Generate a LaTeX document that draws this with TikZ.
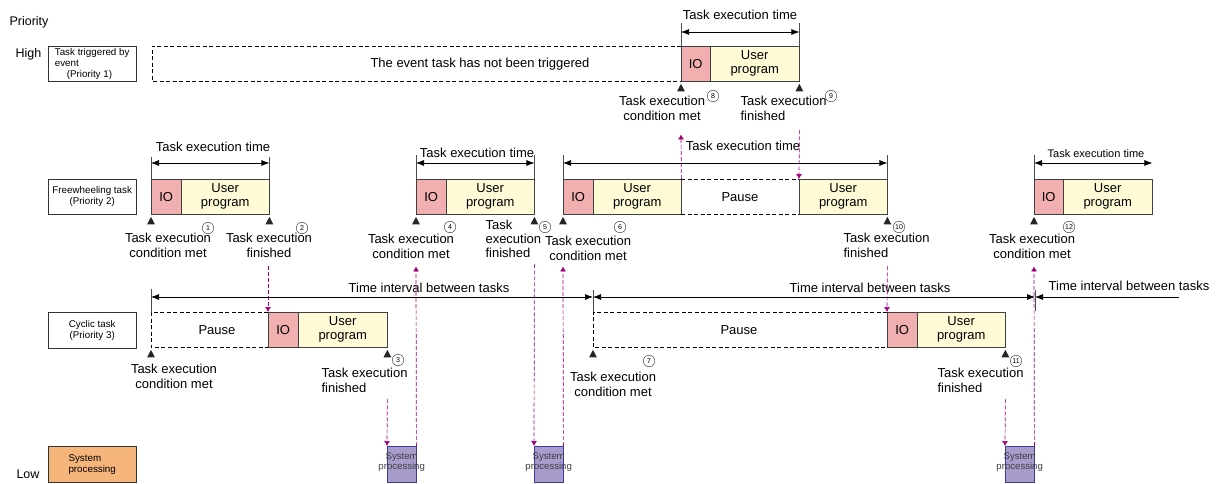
\documentclass[tikz,border=0pt]{standalone}
\usepackage{fontspec}
\setmainfont{Liberation Sans}
\usepackage{tikz}
\usetikzlibrary{calc,arrows.meta,shapes.geometric}
\definecolor{iopink}{HTML}{F2AFAF}
\definecolor{progyellow}{HTML}{FEFBD6}
\definecolor{syspurple}{HTML}{A79CCC}
\definecolor{sysedge}{HTML}{3B3B9B}
\definecolor{sysorange}{HTML}{F6B57B}
\definecolor{trigmag}{HTML}{A3007D}

\begin{document}
\begin{tikzpicture}[x=1pt,y=-1pt,
		lbl/.style={draw=black!80,fill=white,anchor=north west,minimum width=88pt,minimum height=35pt,inner sep=1pt,align=center,font=\fontsize{9.8}{10.8}\selectfont},
		io/.style={draw=black!75,fill=iopink,anchor=north west,minimum width=30pt,minimum height=35pt,inner sep=0pt,font=\fontsize{13}{14}\selectfont},
		prog/.style={draw=black!75,fill=progyellow,anchor=north west,minimum width=88pt,minimum height=35pt,inner sep=0pt,align=center,font=\fontsize{13}{14}\selectfont},
		sys/.style={draw=sysedge,fill=syspurple,anchor=north west,minimum width=29pt,minimum height=36pt,inner sep=0pt},
		systxt/.style={text=black!75,align=center,font=\fontsize{9.6}{10.5}\selectfont},
		txt/.style={align=center,font=\fontsize{13}{15}\selectfont},
		numc/.style={circle,draw=black!80,inner sep=0pt,minimum size=11.5pt,font=\fontsize{7}{7}\selectfont},
		tri/.style={isosceles triangle,isosceles triangle apex angle=55,shape border rotate=90,fill=black!85,inner sep=0pt,minimum height=7.5pt,anchor=apex},
		tick/.style={draw=black!70,line width=0.7pt},
		dimarrow/.style={<->,>={Latex[length=8pt,width=6pt]},line width=0.7pt},
		pausedash/.style={dash pattern=on 4pt off 2.5pt,line width=0.7pt},
		trigarrow/.style={->,>={Latex[length=5pt,width=6pt]},draw=trigmag,dash pattern=on 4pt off 2pt,line width=0.7pt}
	]
		\useasboundingbox (0,0) rectangle (1216,484);

		% priority axis
		\node[anchor=west,font=\fontsize{12.5}{14}\selectfont] (prio) at (6,22) {Priority};
		\node[anchor=west,font=\fontsize{12.5}{14}\selectfont] (high) at (12,54) {High};
		\node[anchor=west,font=\fontsize{12.5}{14}\selectfont] (low) at (13,474) {Low};

		% event task (priority 1)
		\node[lbl,align=left] (p1) at (48,46) {Task triggered by\\event\\\hspace*{12pt}(Priority 1)};
		\node[io,minimum width=29pt] (io8) at (681,46) {IO};
		\node[prog,minimum width=89pt] (up8) at (710,46) {User\\program};
		\coordinate (ev) at (152,46);
		\draw[pausedash] (io8.north west) -- (io8.north west -| ev) -- (io8.south west -| ev) -- (io8.south west);
		\node[txt] (evtxt) at (480,64) {The event task has not been triggered};
		\draw[tick] (io8.north west) -- ++(0,-23);
		\draw[tick] (up8.north east) -- ++(0,-23);
		\draw[dimarrow] ($(io8.north west)+(0,-14)$) -- ($(up8.north east)+(0,-14)$);
		\node[txt] (t8) at (740,15) {Task execution time};
		\node[tri] (a8) at ($(io8.south west)+(0,2)$) {};
		\node[tri] (a9) at ($(up8.south east)+(0,2)$) {};
		\node[txt] (c8) at (662,108) {Task execution\\condition met};
		\node[numc] (n8) at (713,96) {8};
		\node[txt,align=left,anchor=west] (f9) at (737,108) {Task execution\\finished};
		\node[numc] (n9) at (831,96) {9};

		% freewheeling task (priority 2)
		\node[lbl] (p2) at (48,179) {Freewheeling task\\(Priority 2)};
		% run 1
		\node[io] (io1) at (151,179) {IO};
		\node[prog] (up1) at (181,179) {User\\program};
		\draw[tick] (io1.north west) -- ++(0,-22);
		\draw[tick] (up1.north east) -- ++(0,-22);
		\draw[dimarrow] ($(io1.north west)+(0,-16)$) -- ($(up1.north east)+(0,-16)$);
		\node[txt] (t1) at (213,147) {Task execution time};
		\node[tri] (a1) at ($(io1.south west)+(0,2)$) {};
		\node[tri] (a2) at ($(up1.south east)+(0,2)$) {};
		\node[txt] (c1l) at (168,245.5) {Task execution\\condition met};
		\node[numc] (n1) at (208,228) {1};
		\node[txt] (f2) at (269,245.5) {Task execution\\finished};
		\node[numc] (n2) at (302,228) {2};
		% run 2
		\node[io] (io4) at (416,179) {IO};
		\node[prog] (up4) at (446,179) {User\\program};
		\draw[tick] (io4.north west) -- ++(0,-24);
		\draw[tick] (up4.north east) -- ++(0,-24);
		\draw[dimarrow] ($(io4.north west)+(0,-16)$) -- ($(up4.north east)+(0,-16)$);
		\node[txt] (t4) at (477,153) {Task execution time};
		\node[tri] (a4) at ($(io4.south west)+(0,2)$) {};
		\node[tri] (a5) at ($(up4.south east)+(0,2)$) {};
		\node[txt] (c4l) at (411,246) {Task execution\\condition met};
		\node[numc] (n4) at (450,227) {4};
		\node[txt,align=left,anchor=west,font=\fontsize{13}{14}\selectfont] (f5) at (482,239) {Task\\execution\\finished};
		\node[numc] (n5) at (545,227) {5};
		% run 3, interrupted by the event task
		\node[io] (io6) at (563,179) {IO};
		\node[prog] (up6) at (593,179) {User\\program};
		\node[prog] (up10) at (799,179) {User\\program};
		\draw[pausedash] (up6.north east) -- (up10.north west);
		\draw[pausedash] (up6.south east) -- (up10.south west);
		\node[txt] (ps6) at (740,197) {Pause};
		\draw[tick] (io6.north west) -- ++(0,-24);
		\draw[tick] (up10.north east) -- ++(0,-24);
		\draw[dimarrow] ($(io6.north west)+(0,-16)$) -- ($(up10.north east)+(0,-16)$);
		\node[txt] (t6) at (743,146) {Task execution time};
		\node[tri] (a6) at ($(io6.south west)+(0,2)$) {};
		\node[tri] (a10) at ($(up10.south east)+(0,2)$) {};
		\node[txt] (c6l) at (588,248.5) {Task execution\\condition met};
		\node[numc] (n6) at (620,227) {6};
		\node[txt,align=left,anchor=west] (f10) at (840,245.5) {Task execution\\finished};
		\node[numc] (n10) at (899,227) {10};
		% run 4
		\node[io,minimum width=29pt] (io12) at (1034,179) {IO};
		\node[prog,minimum width=89pt] (up12) at (1063,179) {User\\program};
		\draw[tick] (io12.north west) -- ++(0,-24);
		\draw[dimarrow] ($(io12.north west)+(0,-16)$) -- ($(up12.north east)+(0,-16)$);
		\node[txt,font=\fontsize{11}{12}\selectfont] (t12) at (1096,154) {Task execution time};
		\node[tri] (a12) at ($(io12.south west)+(0,2)$) {};
		\node[txt] (c12l) at (1032,246.5) {Task execution\\condition met};
		\node[numc] (n12) at (1069,227) {12};

		% cyclic task (priority 3)
		\node[lbl,minimum height=36pt] (p3) at (48,312) {Cyclic task\\(Priority 3)};
		\coordinate (k1) at (151,297);
		\coordinate (k2) at (593,297);
		\coordinate (k3) at (1035,297);
		\coordinate (k4) at (1179,297);
		% cycle 1
		\node[io] (io3) at (268,312) {IO};
		\node[prog,minimum width=89pt] (up3) at (298,312) {User\\program};
		\draw[pausedash] (io3.north west) -- (io3.north west -| k1) -- (io3.south west -| k1) -- (io3.south west);
		\node[txt] (ps1) at (217,330) {Pause};
		% cycle 2
		\node[io] (io11) at (887,312) {IO};
		\node[prog] (up11) at (917,312) {User\\program};
		\draw[pausedash] (io11.north west) -- (io11.north west -| k2) -- (io11.south west -| k2) -- (io11.south west);
		\node[txt] (ps2) at (739,330) {Pause};
		% time intervals
		\draw[tick] ($(k1)+(0,-8)$) -- (io3.north west -| k1);
		\draw[tick] ($(k2)+(0,-7)$) -- (io11.north west -| k2);
		\draw[tick] ($(k3)+(0,-7)$) -- ($(k3)+(0,14)$);
		\draw[dimarrow] (k1) -- (k2);
		\draw[dimarrow] (k2) -- (k3);
		\draw[dimarrow,<-] (k3) -- (k4);
		\node[txt] (i1) at (429,288) {Time interval between tasks};
		\node[txt] (i2) at (870,288) {Time interval between tasks};
		\node[txt] (i3) at (1129,286) {Time interval between tasks};
		\node[tri] (b1) at ($(io3.south west -| k1)+(0,2)$) {};
		\node[tri] (b3) at ($(up3.south east)+(0,2)$) {};
		\node[tri] (b7) at ($(io11.south west -| k2)+(0,2)$) {};
		\node[tri] (b11) at ($(up11.south east)+(0,2)$) {};
		\node[txt] (c3l) at (174,376.5) {Task execution\\condition met};
		\node[txt,align=left,anchor=west] (f3) at (318,380) {Task execution\\finished};
		\node[numc] (n3) at (398,360) {3};
		\node[txt] (c7l) at (613,384) {Task execution\\condition met};
		\node[numc] (n7) at (649,361) {7};
		\node[txt,align=left,anchor=west] (f11) at (934,380.5) {Task execution\\finished};
		\node[numc] (n11) at (1016,361) {11};

		% system processing
		\node[lbl,fill=sysorange,minimum height=36pt,align=left] (p4) at (48,446) {System\\processing};
		\node[sys] (sys1) at (387,446) {};
		\node[sys] (sys2) at (534,446) {};
		\node[sys] (sys3) at (1005,446) {};
		\node[systxt] at ($(sys1.center)+(0,-2)$) {System\\processing};
		\node[systxt] at ($(sys2.center)+(0,-2)$) {System\\processing};
		\node[systxt] at ($(sys3.center)+(0,-2)$) {System\\processing};

		% hand-over between tasks
		\draw[trigarrow] ($(io3.north west)+(0,-46)$) -- (io3.north west);
		\draw[trigarrow] ($(up3.south east)+(0,52)$) -- (sys1.north west);
		\draw[trigarrow] (sys1.north east) -- ($(io4.south west)+(0,52)$);
		\draw[trigarrow] ($(up4.south east)+(0,50)$) -- (sys2.north west);
		\draw[trigarrow] (sys2.north east) -- ($(io6.south west)+(0,52)$);
		\draw[trigarrow] (up6.north east) -- ($(io8.south west)+(0,53)$);
		\draw[trigarrow] ($(up8.south east)+(0,49)$) -- (up10.north west);
		\draw[trigarrow] ($(up10.south east)+(0,52)$) -- (io11.north west);
		\draw[trigarrow] ($(up11.south east)+(0,52)$) -- (sys3.north west);
		\draw[trigarrow] (sys3.north east) -- ($(io12.south west)+(0,52)$);
	\end{tikzpicture}
\end{document}
